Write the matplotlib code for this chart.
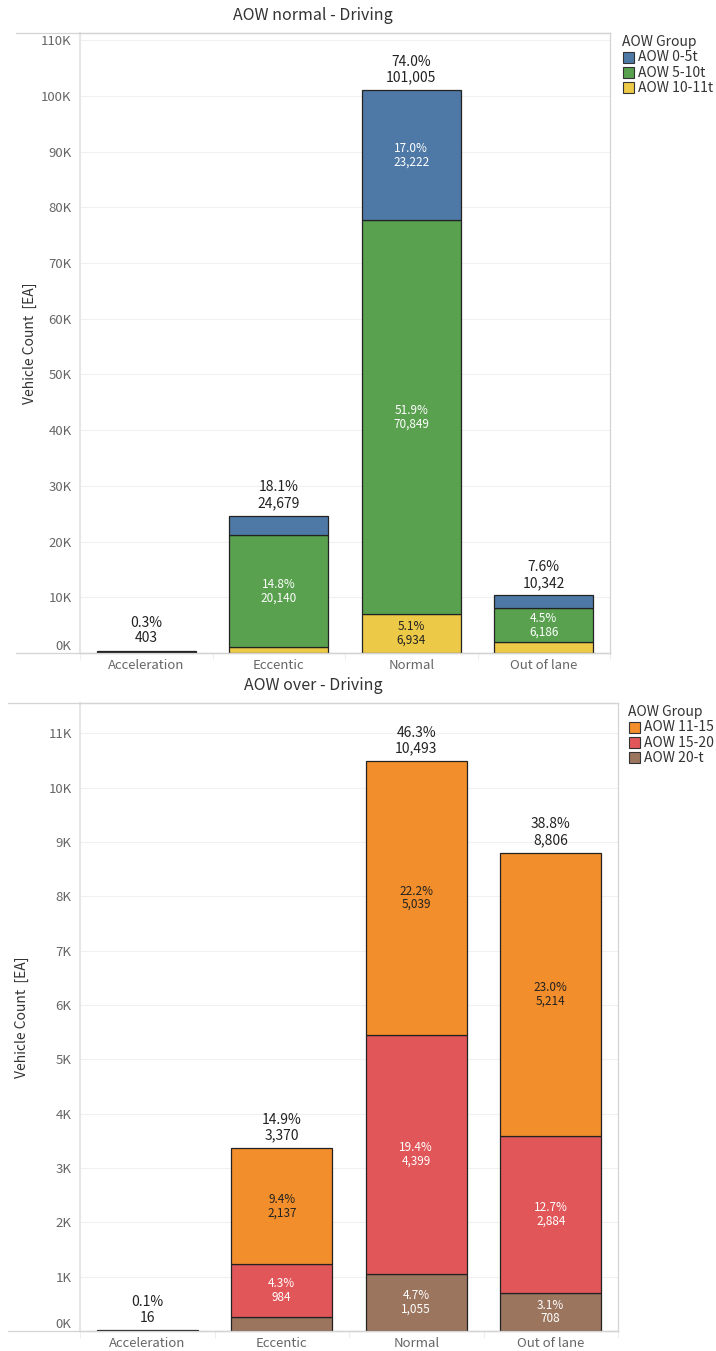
import numpy as np
import matplotlib
matplotlib.use("Agg")
import matplotlib.pyplot as plt
from matplotlib.lines import Line2D
from matplotlib.patches import Rectangle

plt.rcParams['font.family'] = ['Noto Sans CJK KR', 'DejaVu Sans']

# data
categories = ['Acceleration', 'Eccentic', 'Normal', 'Out of lane']

normal_groups = ['AOW 0-5t', 'AOW 5-10t', 'AOW 10-11t']
normal_0_5 = [180, 3489, 23222, 2206]
normal_5_10 = [170, 20140, 70849, 6186]
normal_10_11 = [53, 1050, 6934, 1950]

over_groups = ['AOW 11-15', 'AOW 15-20', 'AOW 20-t']
over_11_15 = [10, 2137, 5039, 5214]
over_15_20 = [4, 984, 4399, 2884]
over_20 = [2, 249, 1055, 708]

W, H = 716, 1351
FRAME = '#d4d4d4'
GRID = '#f0f0f0'
TICK = '#666666'


def px_box(left, top, right, bottom):
    return [left / W, 1 - bottom / H, (right - left) / W, (bottom - top) / H]


def draw_panel(fig, box, frame_left, title, groups, series, colors, txtcolors,
               ymax, ystep, legend_xy, ylabel_x):
    left, top, right, bottom = box
    ax = fig.add_axes(px_box(left, top, right, bottom))
    x = np.arange(len(categories))
    vals = np.array(series, dtype=float)
    totals = vals.sum(axis=0)
    grand = totals.sum()
    thresh = 0.04 * ymax

    # stack from the bottom: last group sits at the bottom
    base = np.zeros(len(categories))
    for i in range(len(groups) - 1, -1, -1):
        ax.bar(x, vals[i], 0.75, bottom=base, color=colors[i],
               edgecolor='#222222', linewidth=0.9, zorder=3)
        for j in range(len(categories)):
            if vals[i][j] >= thresh:
                ax.text(x[j], base[j] + vals[i][j] / 2,
                        f"{vals[i][j] / grand * 100:.1f}%\n{int(vals[i][j]):,}",
                        ha='center', va='center', fontsize=8.5,
                        color=txtcolors[i], linespacing=1.05, zorder=4)
        base += vals[i]

    for j in range(len(categories)):
        ax.annotate(f"{totals[j] / grand * 100:.1f}%\n{int(totals[j]):,}",
                    (x[j], totals[j]), xytext=(0, 4), textcoords='offset points',
                    ha='center', va='bottom', fontsize=10, color='#222222',
                    linespacing=1.15, zorder=4)

    ax.set_xlim(-0.5, len(categories) - 0.5)
    ax.set_ylim(0, ymax)
    ticks = np.arange(0, ymax, ystep)
    ax.set_yticks(ticks, [f"{int(t / 1000)}K" for t in ticks])
    ax.get_yticklabels()[0].set_verticalalignment('bottom')
    ax.set_xticks(x, categories)
    ax.set_xticks(np.arange(len(categories) + 1) - 0.5, minor=True)
    ax.tick_params(axis='x', which='major', length=0, labelsize=9.5,
                   labelcolor=TICK, pad=4)
    ax.tick_params(axis='x', which='minor', length=5, color='#eeeeee', width=0.8)
    ax.tick_params(axis='y', length=0, labelsize=9.5, labelcolor=TICK, pad=6)
    ax.yaxis.grid(True, color=GRID, linewidth=0.8, zorder=0)
    ax.set_axisbelow(True)
    for s in ['top', 'right', 'left']:
        ax.spines[s].set_color(FRAME)
        ax.spines[s].set_linewidth(0.9)
    ax.spines['bottom'].set_color(FRAME)
    ax.spines['bottom'].set_linewidth(1.0)
    ax.spines['left'].set_color('#e6e6e6')
    ax.spines['left'].set_linewidth(1.5)
    ax.set_ylabel('Vehicle Count  [EA]', fontsize=10, color='#333333')
    # label anchor is its right edge once rotated
    ax.yaxis.set_label_coords((ylabel_x + 8 - left) / (right - left), 0.5)

    # frame lines reaching out over the y-axis label area
    for yy in (top, bottom):
        fig.add_artist(Line2D([frame_left / W, right / W], [1 - yy / H, 1 - yy / H],
                              color=FRAME, linewidth=0.9))
    fig.text(((frame_left + right) / 2) / W, 1 - (top - 17) / H, title,
             ha='center', va='center', fontsize=11.5, color='#333333')

    # legend
    lx, ly = legend_xy
    fig.text(lx / W, 1 - ly / H, 'AOW Group', ha='left', va='center',
             fontsize=10, color='#333333')
    for i, g in enumerate(groups):
        yy = ly + 15.3 * (i + 1)
        fig.add_artist(Rectangle(((lx + 1) / W, 1 - (yy + 5.5) / H), 11 / W, 11 / H,
                                 facecolor=colors[i], edgecolor='#333333',
                                 linewidth=0.8))
        fig.text((lx + 16) / W, 1 - yy / H, g, ha='left', va='center',
                 fontsize=10, color='#333333')
    return ax


fig = plt.figure(figsize=(W / 100, H / 100), dpi=100)

draw_panel(fig, (80, 33, 610, 653), 16, 'AOW normal - Driving', normal_groups,
           [normal_0_5, normal_5_10, normal_10_11],
           ['#4e79a7', '#59a14f', '#edc948'], ['white', 'white', '#222222'],
           111300, 10000, (622, 42), 29)

draw_panel(fig, (80, 703, 618, 1331), 8, 'AOW over - Driving', over_groups,
           [over_11_15, over_15_20, over_20],
           ['#f28e2b', '#e15759', '#9c755f'], ['#222222', 'white', 'white'],
           11560, 1000, (628, 712), 21)

fig.savefig('out.png', dpi=100)
